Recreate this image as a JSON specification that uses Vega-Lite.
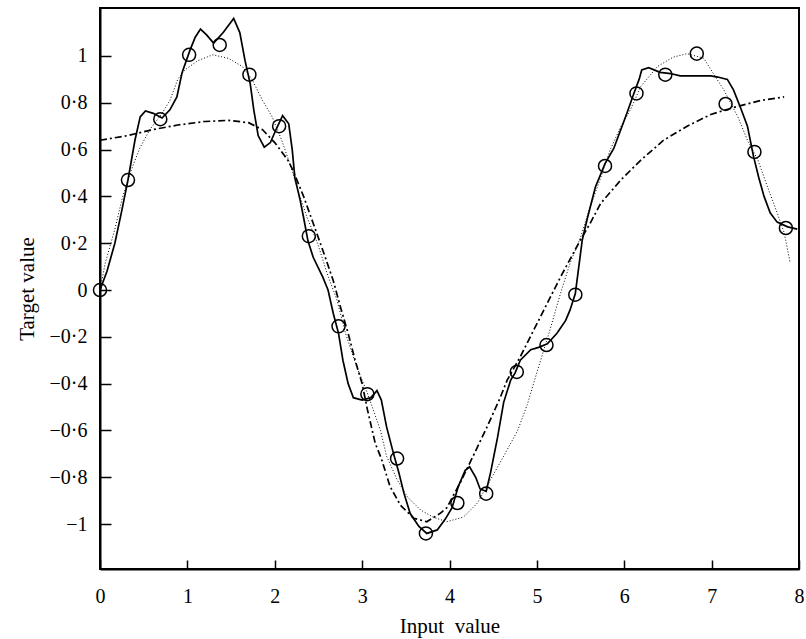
{
  "$schema": "https://vega.github.io/schema/vega-lite/v6.json",
  "width": 699,
  "height": 561,
  "autosize": "none",
  "padding": {"left": 100, "top": 8, "right": 7, "bottom": 70},
  "background": "white",
  "config": {
    "view": {"stroke": "black", "strokeWidth": 2},
    "font": "Liberation Serif",
    "axis": {
      "grid": false,
      "domainColor": "black",
      "domainWidth": 2,
      "tickColor": "black",
      "tickWidth": 1.5,
      "labelColor": "black",
      "labelFont": "Liberation Serif",
      "labelFontSize": 20,
      "titleFont": "Liberation Serif",
      "titleFontSize": 21,
      "titleFontWeight": "normal",
      "titleColor": "black"
    }
  },
  "datasets": {
    "train": [
      {"x": 0, "y": 0}, {"x": 0.32, "y": 0.47}, {"x": 0.69, "y": 0.73}, {"x": 1.02, "y": 1.005},
      {"x": 1.37, "y": 1.047}, {"x": 1.71, "y": 0.92}, {"x": 2.05, "y": 0.70}, {"x": 2.39, "y": 0.23},
      {"x": 2.73, "y": -0.155}, {"x": 3.06, "y": -0.445}, {"x": 3.40, "y": -0.72}, {"x": 3.73, "y": -1.04},
      {"x": 4.09, "y": -0.91}, {"x": 4.42, "y": -0.87}, {"x": 4.77, "y": -0.35}, {"x": 5.11, "y": -0.235},
      {"x": 5.44, "y": -0.02}, {"x": 5.78, "y": 0.53}, {"x": 6.14, "y": 0.84}, {"x": 6.47, "y": 0.92},
      {"x": 6.83, "y": 1.01}, {"x": 7.16, "y": 0.795}, {"x": 7.49, "y": 0.59}, {"x": 7.85, "y": 0.265}
    ],
    "fit": [
      {"x": 0, "y": 0}, {"x": 0.08, "y": 0.08}, {"x": 0.17, "y": 0.2}, {"x": 0.25, "y": 0.34},
      {"x": 0.32, "y": 0.47}, {"x": 0.4, "y": 0.64}, {"x": 0.46, "y": 0.74}, {"x": 0.52, "y": 0.765},
      {"x": 0.61, "y": 0.755}, {"x": 0.71, "y": 0.735}, {"x": 0.8, "y": 0.77}, {"x": 0.88, "y": 0.825},
      {"x": 0.94, "y": 0.93}, {"x": 1.03, "y": 1.025}, {"x": 1.09, "y": 1.08}, {"x": 1.15, "y": 1.115},
      {"x": 1.22, "y": 1.09}, {"x": 1.3, "y": 1.055}, {"x": 1.41, "y": 1.1}, {"x": 1.53, "y": 1.16},
      {"x": 1.6, "y": 1.1}, {"x": 1.66, "y": 0.98}, {"x": 1.72, "y": 0.88}, {"x": 1.76, "y": 0.77},
      {"x": 1.81, "y": 0.66}, {"x": 1.88, "y": 0.61}, {"x": 1.95, "y": 0.63}, {"x": 2.02, "y": 0.69},
      {"x": 2.09, "y": 0.745}, {"x": 2.16, "y": 0.71}, {"x": 2.2, "y": 0.6}, {"x": 2.23, "y": 0.48},
      {"x": 2.29, "y": 0.385}, {"x": 2.33, "y": 0.31}, {"x": 2.38, "y": 0.21}, {"x": 2.44, "y": 0.14},
      {"x": 2.55, "y": 0.055}, {"x": 2.61, "y": 0.0}, {"x": 2.67, "y": -0.1}, {"x": 2.73, "y": -0.185},
      {"x": 2.78, "y": -0.3}, {"x": 2.84, "y": -0.4}, {"x": 2.9, "y": -0.46}, {"x": 3.0, "y": -0.47},
      {"x": 3.1, "y": -0.46}, {"x": 3.17, "y": -0.43}, {"x": 3.22, "y": -0.47}, {"x": 3.28, "y": -0.585},
      {"x": 3.36, "y": -0.7}, {"x": 3.42, "y": -0.78}, {"x": 3.48, "y": -0.87}, {"x": 3.55, "y": -0.955},
      {"x": 3.65, "y": -1.01}, {"x": 3.74, "y": -1.04}, {"x": 3.86, "y": -1.025}, {"x": 3.95, "y": -0.98},
      {"x": 4.03, "y": -0.93}, {"x": 4.1, "y": -0.84}, {"x": 4.18, "y": -0.77}, {"x": 4.23, "y": -0.755},
      {"x": 4.3, "y": -0.8}, {"x": 4.35, "y": -0.85}, {"x": 4.42, "y": -0.86}, {"x": 4.47, "y": -0.78},
      {"x": 4.55, "y": -0.63}, {"x": 4.62, "y": -0.48}, {"x": 4.7, "y": -0.385}, {"x": 4.75, "y": -0.355},
      {"x": 4.81, "y": -0.3}, {"x": 4.93, "y": -0.255}, {"x": 5.02, "y": -0.245}, {"x": 5.12, "y": -0.23},
      {"x": 5.23, "y": -0.185}, {"x": 5.33, "y": -0.13}, {"x": 5.38, "y": -0.085}, {"x": 5.44, "y": -0.015},
      {"x": 5.48, "y": 0.1}, {"x": 5.52, "y": 0.215}, {"x": 5.58, "y": 0.31}, {"x": 5.67, "y": 0.44},
      {"x": 5.78, "y": 0.54}, {"x": 5.88, "y": 0.605}, {"x": 5.96, "y": 0.685}, {"x": 6.03, "y": 0.755},
      {"x": 6.11, "y": 0.84}, {"x": 6.17, "y": 0.9}, {"x": 6.2, "y": 0.94}, {"x": 6.28, "y": 0.95},
      {"x": 6.41, "y": 0.93}, {"x": 6.53, "y": 0.925}, {"x": 6.64, "y": 0.915}, {"x": 6.79, "y": 0.915},
      {"x": 6.99, "y": 0.915}, {"x": 7.07, "y": 0.91}, {"x": 7.18, "y": 0.9}, {"x": 7.25, "y": 0.855},
      {"x": 7.33, "y": 0.78}, {"x": 7.41, "y": 0.7}, {"x": 7.48, "y": 0.57}, {"x": 7.54, "y": 0.48},
      {"x": 7.6, "y": 0.4}, {"x": 7.67, "y": 0.33}, {"x": 7.75, "y": 0.29}, {"x": 7.87, "y": 0.27},
      {"x": 7.98, "y": 0.26}
    ],
    "truth": [
      {"x": 0, "y": 0}, {"x": 0.06, "y": 0.115}, {"x": 0.17, "y": 0.26}, {"x": 0.26, "y": 0.4},
      {"x": 0.37, "y": 0.525}, {"x": 0.46, "y": 0.61}, {"x": 0.57, "y": 0.685}, {"x": 0.71, "y": 0.755},
      {"x": 0.8, "y": 0.81}, {"x": 0.89, "y": 0.9}, {"x": 0.97, "y": 0.94}, {"x": 1.12, "y": 0.98},
      {"x": 1.29, "y": 1.005}, {"x": 1.47, "y": 0.99}, {"x": 1.63, "y": 0.955}, {"x": 1.74, "y": 0.9},
      {"x": 1.86, "y": 0.81}, {"x": 1.97, "y": 0.74}, {"x": 2.08, "y": 0.64}, {"x": 2.2, "y": 0.51},
      {"x": 2.26, "y": 0.43}, {"x": 2.37, "y": 0.31}, {"x": 2.49, "y": 0.2}, {"x": 2.6, "y": 0.07},
      {"x": 2.71, "y": -0.04}, {"x": 2.81, "y": -0.185}, {"x": 2.94, "y": -0.33}, {"x": 3.06, "y": -0.44},
      {"x": 3.21, "y": -0.6}, {"x": 3.28, "y": -0.71}, {"x": 3.4, "y": -0.81}, {"x": 3.52, "y": -0.885},
      {"x": 3.67, "y": -0.94}, {"x": 3.81, "y": -0.97}, {"x": 3.97, "y": -0.99}, {"x": 4.16, "y": -0.97},
      {"x": 4.32, "y": -0.91}, {"x": 4.47, "y": -0.81}, {"x": 4.62, "y": -0.71}, {"x": 4.78, "y": -0.6},
      {"x": 4.89, "y": -0.49}, {"x": 5.01, "y": -0.34}, {"x": 5.15, "y": -0.17}, {"x": 5.27, "y": -0.015},
      {"x": 5.38, "y": 0.115}, {"x": 5.5, "y": 0.225}, {"x": 5.61, "y": 0.355}, {"x": 5.73, "y": 0.48},
      {"x": 5.84, "y": 0.6}, {"x": 5.95, "y": 0.69}, {"x": 6.07, "y": 0.77}, {"x": 6.19, "y": 0.87},
      {"x": 6.38, "y": 0.955}, {"x": 6.56, "y": 0.995}, {"x": 6.72, "y": 1.01}, {"x": 6.91, "y": 0.99},
      {"x": 7.02, "y": 0.925}, {"x": 7.14, "y": 0.855}, {"x": 7.3, "y": 0.74}, {"x": 7.41, "y": 0.64},
      {"x": 7.53, "y": 0.555}, {"x": 7.64, "y": 0.44}, {"x": 7.75, "y": 0.33}, {"x": 7.83, "y": 0.245},
      {"x": 7.9, "y": 0.115}
    ],
    "smooth": [
      {"x": 0, "y": 0.64}, {"x": 0.32, "y": 0.66}, {"x": 0.6, "y": 0.685}, {"x": 0.89, "y": 0.705},
      {"x": 1.2, "y": 0.72}, {"x": 1.47, "y": 0.725}, {"x": 1.7, "y": 0.715}, {"x": 1.86, "y": 0.685},
      {"x": 2.0, "y": 0.63}, {"x": 2.15, "y": 0.555}, {"x": 2.21, "y": 0.51}, {"x": 2.33, "y": 0.4},
      {"x": 2.44, "y": 0.285}, {"x": 2.55, "y": 0.17}, {"x": 2.67, "y": 0.04}, {"x": 2.75, "y": -0.07},
      {"x": 2.84, "y": -0.185}, {"x": 2.92, "y": -0.3}, {"x": 3.0, "y": -0.4}, {"x": 3.06, "y": -0.51},
      {"x": 3.15, "y": -0.655}, {"x": 3.22, "y": -0.72}, {"x": 3.32, "y": -0.84}, {"x": 3.44, "y": -0.92},
      {"x": 3.59, "y": -0.975}, {"x": 3.74, "y": -0.99}, {"x": 3.89, "y": -0.955}, {"x": 3.97, "y": -0.93},
      {"x": 4.12, "y": -0.825}, {"x": 4.27, "y": -0.71}, {"x": 4.43, "y": -0.585}, {"x": 4.58, "y": -0.46},
      {"x": 4.66, "y": -0.385}, {"x": 4.81, "y": -0.285}, {"x": 5.04, "y": -0.115}, {"x": 5.27, "y": 0.055},
      {"x": 5.5, "y": 0.215}, {"x": 5.61, "y": 0.285}, {"x": 5.73, "y": 0.37}, {"x": 5.96, "y": 0.47},
      {"x": 6.19, "y": 0.555}, {"x": 6.45, "y": 0.64}, {"x": 6.72, "y": 0.7}, {"x": 6.99, "y": 0.75},
      {"x": 7.25, "y": 0.78}, {"x": 7.56, "y": 0.81}, {"x": 7.83, "y": 0.825}
    ]
  },
  "encoding": {
    "x": {
      "field": "x", "type": "quantitative",
      "scale": {"domain": [0, 8], "nice": false, "zero": false},
      "axis": {
        "title": "Input\u00a0 value",
        "values": [0, 1, 2, 3, 4, 5, 6, 7, 8],
        "tickSize": -9,
        "labelPadding": 26,
        "titlePadding": 9,
        "labelFlush": false
      }
    },
    "y": {
      "field": "y", "type": "quantitative",
      "scale": {"domain": [-1.192, 1.205], "nice": false, "zero": false},
      "axis": {
        "title": "Target value",
        "values": [-1, -0.8, -0.6, -0.4, -0.2, 0, 0.2, 0.4, 0.6, 0.8, 1],
        "labelExpr": "replace(format(datum.value, '~g'), '.', '·')",
        "tickSize": -11,
        "labelPadding": 24,
        "titlePadding": 12,
        "labelFlush": false
      }
    }
  },
  "layer": [
    {
      "data": {"name": "truth"},
      "mark": {"type": "line", "color": "black", "strokeWidth": 1, "strokeDash": [1, 2]}
    },
    {
      "data": {"name": "smooth"},
      "mark": {"type": "line", "color": "black", "strokeWidth": 1.7, "strokeDash": [7, 3, 2, 3]}
    },
    {
      "data": {"name": "fit"},
      "mark": {"type": "line", "color": "black", "strokeWidth": 1.7}
    },
    {
      "data": {"name": "train"},
      "mark": {"type": "point", "shape": "circle", "filled": false, "color": "black", "opacity": 1, "size": 170, "strokeWidth": 1.5}
    }
  ]
}
